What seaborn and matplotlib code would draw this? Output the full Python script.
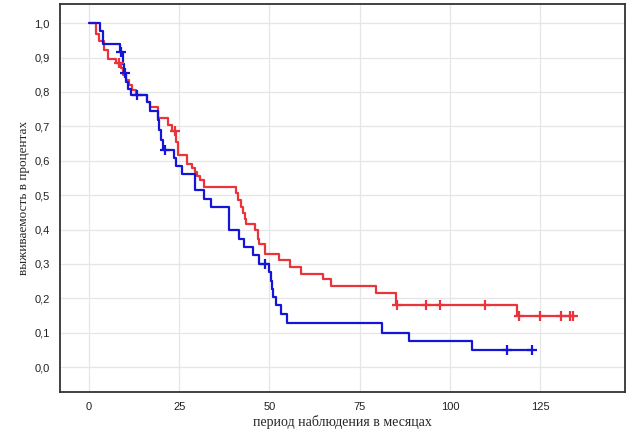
import numpy as np
import pandas as pd
import seaborn as sns
import matplotlib.pyplot as plt

# Kaplan-Meier curves: event times (months) and survival after each drop
red_t = [0, 2.0, 2.9, 4.2, 5.4, 7.6, 8.8, 9.3, 10.2, 11.1, 12.0, 13.0, 16.2, 16.8, 19.0,
         21.8, 23.0, 24.1, 24.6, 27.3, 28.5, 29.4, 30.0, 30.7, 31.9, 40.7, 41.2, 42.0,
         42.6, 43.1, 43.6, 46.1, 46.7, 47.2, 48.9, 52.6, 55.6, 58.8, 64.8, 67.1, 79.6,
         85.0, 118.5]
red_s = [1.0, 0.97, 0.947, 0.922, 0.895, 0.883, 0.87, 0.85, 0.835, 0.82, 0.806, 0.79,
         0.772, 0.757, 0.723, 0.704, 0.687, 0.655, 0.616, 0.592, 0.58, 0.568, 0.556,
         0.544, 0.524, 0.505, 0.485, 0.466, 0.447, 0.432, 0.417, 0.398, 0.374, 0.359,
         0.33, 0.311, 0.291, 0.272, 0.257, 0.235, 0.216, 0.182, 0.15]
red_cens = [8.3, 23.9, 85.4, 93.3, 97.2, 109.7, 119.2, 125.0, 130.7, 133.3, 134.0]

blue_t = [0, 3.2, 3.8, 8.5, 9.3, 9.6, 10.2, 10.8, 11.6, 16.0, 16.8, 19.0, 19.5, 20.0,
          20.4, 23.6, 24.1, 25.9, 29.4, 31.9, 33.8, 38.7, 41.5, 42.9, 45.4, 47.2, 50.0,
          50.4, 50.6, 50.9, 51.9, 53.1, 54.8, 81.3, 88.7, 106.2]
blue_s = [1.0, 0.976, 0.94, 0.917, 0.88, 0.855, 0.83, 0.81, 0.79, 0.77, 0.745, 0.72,
          0.69, 0.66, 0.632, 0.607, 0.584, 0.561, 0.515, 0.49, 0.466, 0.398, 0.374,
          0.35, 0.325, 0.301, 0.277, 0.25, 0.227, 0.204, 0.18, 0.155, 0.128, 0.1,
          0.077, 0.05]
blue_cens = [8.8, 9.9, 13.2, 21.2, 48.9, 115.7, 122.8]

y_ticks = np.round(np.arange(0, 1.01, 0.1), 1)
x_ticks = [0, 25, 50, 75, 100, 125]

sns.set_style("white")
plt.rcParams["font.family"] = ["Liberation Sans", "DejaVu Sans"]

fig = plt.figure(figsize=(6.39, 4.36), dpi=100)
ax = fig.add_axes([0.094, 0.101, 0.884, 0.89])


def km_frame(t, s, cens):
    end = max(cens[-1], t[-1])
    return pd.DataFrame({"t": list(t) + [end], "s": list(s) + [s[-1]]})


def cens_frame(t, s, cens):
    idx = np.searchsorted(t, cens, side="right") - 1
    return pd.DataFrame({"t": cens, "s": np.array(s)[idx]})


for t, s, cens, col in [(red_t, red_s, red_cens, "#e8343a"),
                        (blue_t, blue_s, blue_cens, "#1515d8")]:
    sns.lineplot(data=km_frame(t, s, cens), x="t", y="s", drawstyle="steps-post",
                 estimator=None, sort=False, color=col, linewidth=1.6, ax=ax)
    sns.scatterplot(data=cens_frame(t, s, cens), x="t", y="s", marker="+", s=45,
                    color=col, linewidth=1.6, ax=ax, zorder=3)

ax.set_xlim(-8, 148.5)
ax.set_ylim(-0.072, 1.056)
ax.set_xticks(x_ticks)
ax.set_yticks(y_ticks)
ax.set_yticklabels([f"{v:.1f}".replace(".", ",") for v in y_ticks])
ax.grid(True, color="#e6e6e6", linewidth=0.9)
ax.set_axisbelow(True)
for sp in ax.spines.values():
    sp.set_color("#333333")
    sp.set_linewidth(1.3)
ax.tick_params(axis="both", direction="out", length=4, width=1, color="#333333",
               labelsize=8, labelcolor="#222222")
ax.set_xlabel("период наблюдения в месяцах", family="Liberation Serif", fontsize=10,
              labelpad=2)
ax.set_ylabel("выживаемость в процентах", family="Liberation Serif", fontsize=9.5,
              labelpad=3)

fig.savefig("out.png", dpi=100)
